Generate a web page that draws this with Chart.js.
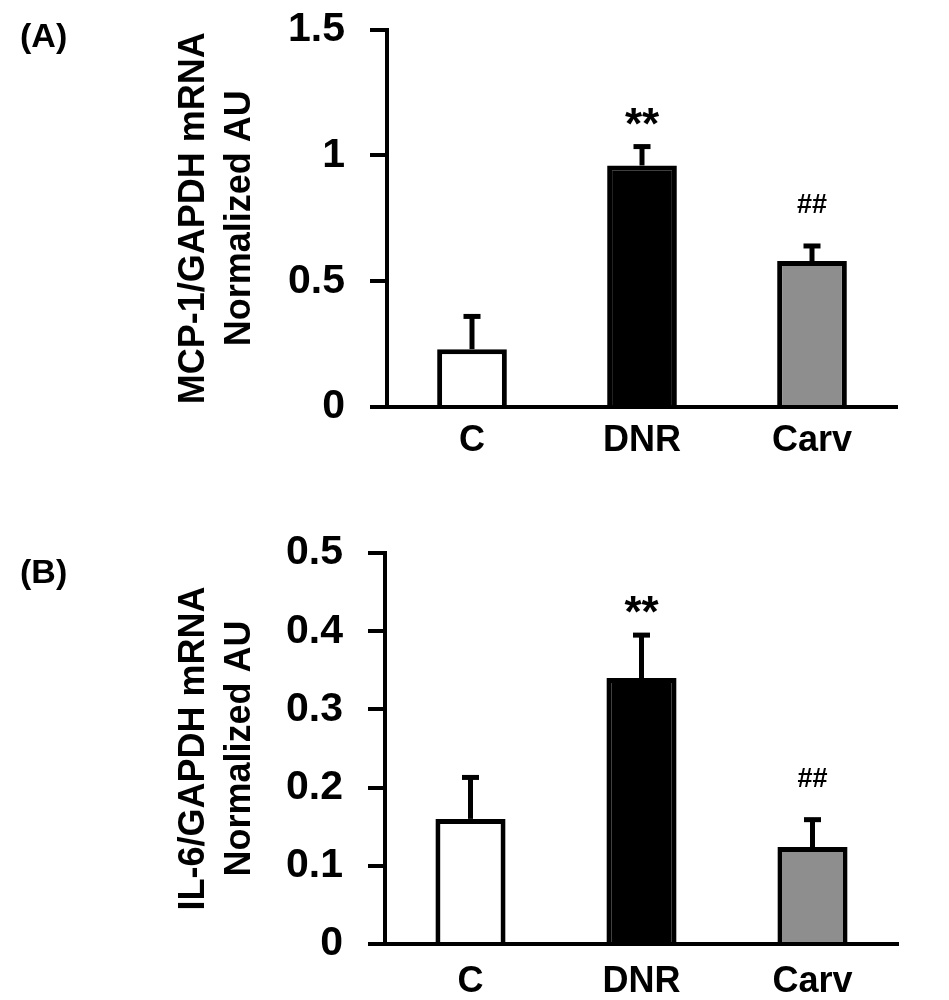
<!DOCTYPE html>
<html>
<head>
<meta charset="utf-8">
<script src="https://cdn.jsdelivr.net/npm/chart.js@4"></script>
<style>
  html, body { margin: 0; padding: 0; background: #fff; }
  #wrap { position: relative; width: 949px; height: 1000px; background: #fff; overflow: hidden; }
  canvas { position: absolute; left: 0; }
  #cA { top: -20px; }
  #cB { top: 490px; }
</style>
</head>
<body>
<div id="wrap">
  <canvas id="cA" width="949" height="510"></canvas>
  <canvas id="cB" width="949" height="510"></canvas>
</div>
<script>
// ---- data ----
const categories = ['C', 'DNR', 'Carv'];
const mcp1Values = [0.23, 0.96, 0.58];
const mcp1Errors = [0.13, 0.075, 0.06];
const il6Values = [0.16, 0.34, 0.124];
const il6Errors = [0.053, 0.055, 0.035];
const significance = ['', '**', '##'];
const mcp1Ticks = [0, 0.5, 1, 1.5];
const il6Ticks = [0, 0.1, 0.2, 0.3, 0.4, 0.5];
const barColors = ['#ffffff', '#000000', '#8e8e8e'];

const FONT = '"Liberation Sans", Arial, Helvetica, sans-serif';

const errorBarPlugin = {
  id: 'errorBars',
  afterDatasetsDraw(chart, args, opts) {
    const ctx = chart.ctx;
    const meta = chart.getDatasetMeta(0);
    const y = chart.scales.y;
    ctx.save();
    ctx.strokeStyle = '#000';
    ctx.lineWidth = 5;
    meta.data.forEach((bar, i) => {
      const v = opts.values[i], e = opts.errors[i];
      const yTop = y.getPixelForValue(v + e);
      const yBar = y.getPixelForValue(v);
      ctx.beginPath();
      ctx.moveTo(bar.x, yBar);
      ctx.lineTo(bar.x, yTop);
      ctx.stroke();
      ctx.beginPath();
      ctx.moveTo(bar.x - 8.5, yTop);
      ctx.lineTo(bar.x + 8.5, yTop);
      ctx.stroke();
      const mark = opts.marks[i];
      if (mark) {
        ctx.fillStyle = '#000';
        ctx.textAlign = 'center';
        ctx.textBaseline = 'alphabetic';
        if (mark === '**') {
          ctx.font = 'bold 44px ' + FONT;
          ctx.fillText(mark, bar.x, yTop - 8);
        } else {
          ctx.font = 'bold 27px ' + FONT;
          ctx.fillText(mark, bar.x, yTop - 33);
        }
      }
    });
    ctx.restore();
  },
  afterDraw(chart, args, opts) {
    const ctx = chart.ctx;
    ctx.save();
    ctx.fillStyle = '#000';
    ctx.font = 'bold 34px ' + FONT;
    ctx.textAlign = 'left';
    ctx.textBaseline = 'middle';
    ctx.fillText(opts.panel, 20, opts.panelY);
    ctx.restore();
  }
};

function makeChart(id, values, errors, ticks, titleLines, pad, xHeight, xPad, panel, panelY) {
  const maxV = ticks[ticks.length - 1];
  return new Chart(document.getElementById(id), {
    type: 'bar',
    data: {
      labels: categories,
      datasets: [{
        data: values,
        backgroundColor: barColors,
        borderColor: '#000',
        borderWidth: 5,
        borderSkipped: 'start',
        barPercentage: 0.41,
        categoryPercentage: 1.0
      }]
    },
    options: {
      responsive: false,
      animation: false,
      layout: { padding: pad },
      plugins: {
        legend: { display: false },
        tooltip: { enabled: false },
        errorBars: { values, errors, marks: significance, panel, panelY }
      },
      scales: {
        x: {
          grid: { display: false },
          border: { display: true, color: '#000', width: 4 },
          ticks: { color: '#000', font: { family: FONT, size: 36, weight: 'bold' }, padding: xPad },
          afterFit(s) { s.height = xHeight; }
        },
        y: {
          min: 0, max: maxV,
          afterBuildTicks(s) { s.ticks = ticks.map(v => ({ value: v })); },
          grid: { display: true, drawOnChartArea: false, drawTicks: true, tickLength: 17, tickWidth: 4, tickColor: '#000', lineWidth: 4, color: '#000' },
          border: { display: true, color: '#000', width: 4 },
          ticks: {
            color: '#000',
            font: { family: FONT, size: 41, weight: 'bold' },
            padding: 25,
            callback: (v) => String(v)
          },
          title: {
            display: true,
            text: titleLines,
            color: '#000',
            font: { family: FONT, size: 36, weight: 'bold', lineHeight: 1.28 },
            padding: { top: 171, bottom: 0 }
          },
          afterFit(s) { s.width = pad.yWidth; }
        }
      }
    },
    plugins: [errorBarPlugin]
  });
}

makeChart('cA', mcp1Values, mcp1Errors, mcp1Ticks, ['MCP-1/GAPDH mRNA', 'Normalized AU'],
  { left: 0, top: 48, right: 52, bottom: 0, yWidth: 387 }, 83, 4, '(A)', 58);
makeChart('cB', il6Values, il6Errors, il6Ticks, ['IL-6/GAPDH mRNA', 'Normalized AU'],
  { left: 0, top: 63, right: 51, bottom: 0, yWidth: 385 }, 56, 8, '(B)', 84);
</script>
</body>
</html>
